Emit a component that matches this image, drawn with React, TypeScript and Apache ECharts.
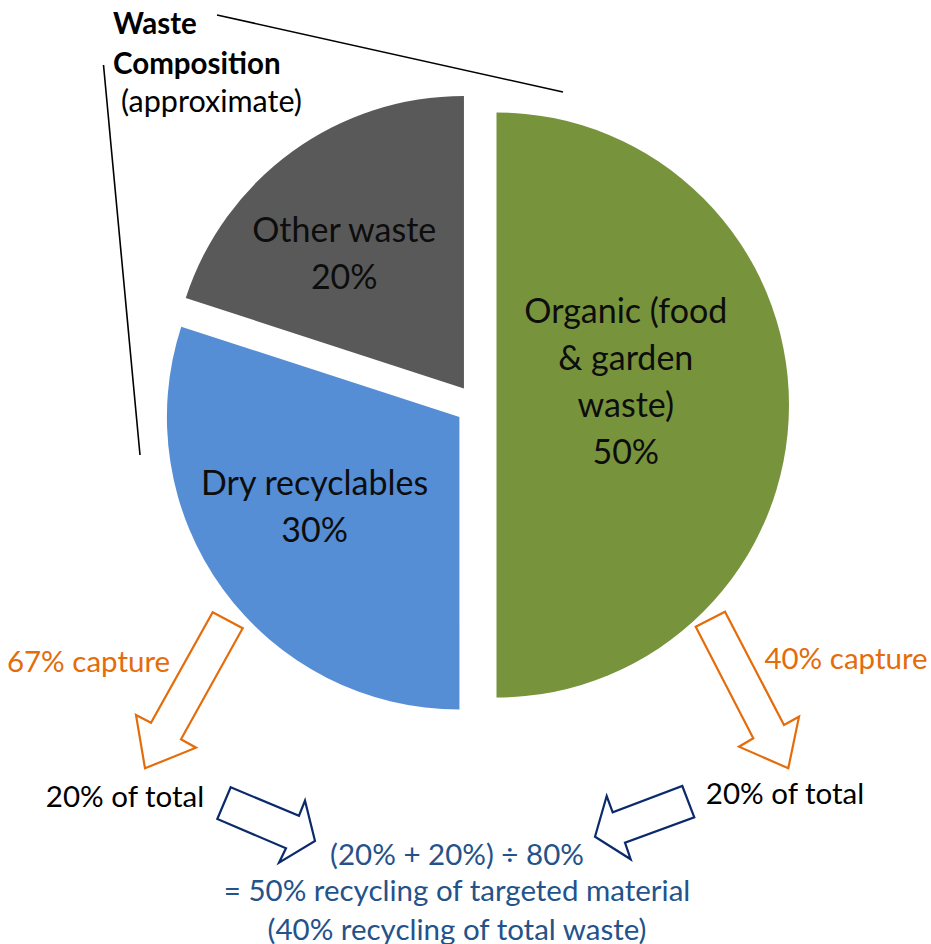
import { useEffect, useRef } from "react";
import * as echarts from "echarts";

// Waste composition shares (percent of total waste)
const categories = ["Organic (food\n& garden\nwaste)", "Dry recyclables", "Other waste"];
const shares = [50, 30, 20];
const sliceColors = ["#77933C", "#558ED5", "#595959"];

// Annotation texts
const titleLines = ["Waste", "Composition", "(approximate)"];
const captureLabels = ["67% capture", "40% capture"];
const capturedLabels = ["20% of total", "20% of total"];
const summaryLines = [
  "(20% + 20%) ÷ 80%",
  "= 50% recycling of targeted material",
  "(40% recycling of total waste)",
];

const FONT = "Lato, 'Noto Sans', sans-serif";
const ORANGE = "#E46C0A";
const NAVY = "#0B2A6B";
const SUMMARY_BLUE = "#24528A";

// Nudges for the in-slice labels, by slice index
const labelNudge: Record<number, [number, number]> = {
  0: [-20, -25],
  1: [-24, 0],
  2: [-32, -16],
};

type Pt = [number, number];

// Outlined block arrows
const orangeArrowLeft: Pt[] = [
  [212.7, 612.3], [242.7, 628.3], [181, 739.3], [196, 747.7],
  [145, 768.3], [136, 715], [151, 722.7],
];
const orangeArrowRight: Pt[] = [
  [695.7, 626.7], [725, 611.7], [784, 725], [799, 716.7],
  [788.3, 768.3], [739, 746.7], [753.3, 738.3],
];
const navyArrowLeft: Pt[] = [
  [230.7, 787.3], [299, 815.7], [305, 800.7], [315, 841],
  [279, 862.7], [286, 848.3], [217.3, 819],
];
const navyArrowRight: Pt[] = [
  [682.3, 786], [694.3, 817.3], [625, 842.7], [630.7, 859.3],
  [595, 836.7], [606.7, 796], [612.7, 812.3],
];

function text(
  str: string,
  x: number,
  y: number,
  opts: { size: number; color: string; align?: string; weight?: string }
) {
  return {
    type: "text",
    x,
    y,
    silent: true,
    style: {
      text: str,
      fill: opts.color,
      font: `${opts.weight ?? "normal"} ${opts.size}px ${FONT}`,
      align: opts.align ?? "center",
      verticalAlign: "middle",
    },
  };
}

function arrow(points: Pt[], color: string) {
  return {
    type: "polygon",
    silent: true,
    shape: { points },
    style: { fill: "#ffffff", stroke: color, lineWidth: 2.2, lineJoin: "miter" },
  };
}

export default function App() {
  const ref = useRef<HTMLDivElement>(null);

  useEffect(() => {
    if (!ref.current) return;
    const chart = echarts.init(ref.current, undefined, { renderer: "svg" });

    const option = {
      animation: false,
      backgroundColor: "#ffffff",
      textStyle: { fontFamily: FONT },
      series: [
        {
          type: "pie",
          center: [476, 405],
          radius: 292.5,
          startAngle: 90,
          clockwise: true,
          selectedMode: "multiple",
          selectedOffset: 20.5,
          silent: true,
          emphasis: { disabled: true },
          labelLine: { show: false },
          label: {
            show: true,
            position: "inside",
            color: "#0d0d0d",
            fontFamily: FONT,
            fontSize: 34,
            lineHeight: 47,
            align: "center",
            formatter: (p: any) => `${p.name}\n${p.value}%`,
          },
          labelLayout: (p: any) => {
            const n = labelNudge[p.dataIndex] ?? [0, 0];
            return { dx: n[0], dy: n[1] };
          },
          data: categories.map((name, i) => ({
            name,
            value: shares[i],
            selected: true,
            itemStyle: { color: sliceColors[i] },
            select: { itemStyle: { color: sliceColors[i] } },
          })),
        },
      ],
      graphic: [
        // frame lines around the title
        {
          type: "line",
          silent: true,
          shape: { x1: 217, y1: 15, x2: 563, y2: 92 },
          style: { stroke: "#000", lineWidth: 1.6 },
        },
        {
          type: "line",
          silent: true,
          shape: { x1: 103.5, y1: 65, x2: 140, y2: 455 },
          style: { stroke: "#000", lineWidth: 1.6 },
        },
        text(titleLines[0], 113, 22, { size: 29.5, color: "#000", align: "left", weight: "bold" }),
        text(titleLines[1], 113, 62, { size: 29.5, color: "#000", align: "left", weight: "bold" }),
        text(titleLines[2], 121, 100, { size: 30.5, color: "#000", align: "left" }),

        arrow(orangeArrowLeft, ORANGE),
        arrow(orangeArrowRight, ORANGE),
        arrow(navyArrowLeft, NAVY),
        arrow(navyArrowRight, NAVY),

        text(captureLabels[0], 88.5, 660, { size: 29.5, color: ORANGE }),
        text(captureLabels[1], 846, 657, { size: 29.5, color: ORANGE }),
        text(capturedLabels[0], 125, 795, { size: 29.5, color: "#000" }),
        text(capturedLabels[1], 785, 792, { size: 29.5, color: "#000" }),

        text(summaryLines[0], 457, 853, { size: 29.5, color: SUMMARY_BLUE }),
        text(summaryLines[1], 457, 889, { size: 29.5, color: SUMMARY_BLUE }),
        text(summaryLines[2], 457, 928, { size: 29.5, color: SUMMARY_BLUE }),
      ],
    };

    chart.setOption(option as any);
    return () => chart.dispose();
  }, []);

  return (
    <div
      ref={ref}
      style={{ position: "fixed", left: 0, top: 0, width: 931, height: 944 }}
    />
  );
}
